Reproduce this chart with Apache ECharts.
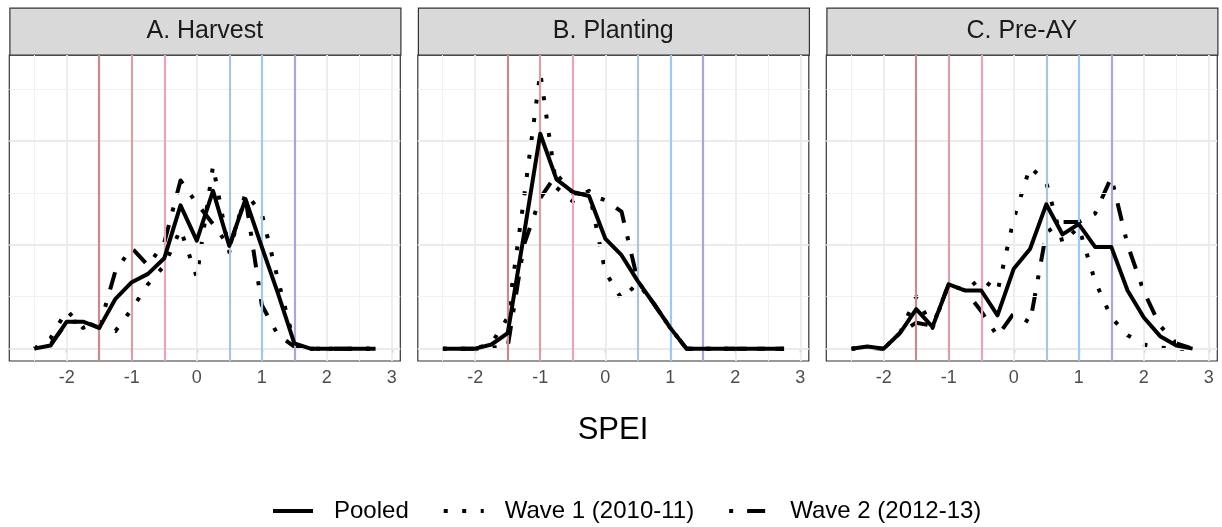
<!DOCTYPE html>
<html lang="en">
<head>
<meta charset="utf-8">
<title>SPEI distributions</title>
<script src="https://cdn.jsdelivr.net/npm/echarts@6/dist/echarts.min.js"></script>
<style>
    html, body, #main {
        width: 100%;
        height: 100%;
        margin: 0;
        padding: 0;
        overflow: hidden;
        background: #ffffff;
    }
</style>
</head>
<body>
<div id="main"></div>
<script>
    // SPEI bin centres (shared by all panels)
    var spei = [-2.5, -2.25, -2, -1.75, -1.5, -1.25, -1, -0.75, -0.5, -0.25, 0, 0.25,
                0.5, 0.75, 1, 1.25, 1.5, 1.75, 2, 2.25, 2.5, 2.75];

    var panelTitles = ['A. Harvest', 'B. Planting', 'C. Pre-AY'];
    var seriesNames = ['Pooled', 'Wave 1 (2010-11)', 'Wave 2 (2012-13)'];

    // A. Harvest
    var harvestPooled = [0, 0.03, 0.26, 0.26, 0.2, 0.48, 0.64, 0.72, 0.87, 1.38, 1.04, 1.52,
                         0.99, 1.44, 0.98, 0.53, 0.05, 0, 0, 0, 0, 0];
    var harvestWave1  = [0, 0.1, 0.37, 0.2, 0.25, 0.17, 0.38, 0.62, 0.8, 1.15, 0.69, 1.76,
                         0.93, 1.5, 1.3, 0.66, 0.05, 0, 0, 0, 0, 0];
    var harvestWave2  = [0, 0.04, 0.25, 0.27, 0.2, 0.75, 0.97, 0.8, 1.02, 1.62, 1.4, 1.2,
                         0.98, 1.45, 0.42, 0.13, 0.02, 0, 0, 0, 0, 0];

    // B. Planting
    var plantingPooled = [0, 0, 0, 0.04, 0.15, 1.1, 2.07, 1.63, 1.51, 1.47, 1.06, 0.9,
                          0.65, 0.43, 0.2, 0, 0, 0, 0, 0, 0, 0];
    var plantingWave1  = [0, 0, 0, 0.05, 0.3, 1.45, 2.66, 1.55, 1.42, 1.52, 0.74, 0.48,
                          0.63, 0.43, 0.2, 0, 0, 0, 0, 0, 0, 0];
    var plantingWave2  = [0, 0, 0, 0.01, 0.02, 1.0, 1.45, 1.68, 1.5, 1.48, 1.43, 1.32,
                          0.65, 0.43, 0.2, 0, 0, 0, 0, 0, 0, 0];

    // C. Pre-AY
    var preayPooled = [0, 0.02, 0, 0.15, 0.38, 0.21, 0.62, 0.56, 0.56, 0.32, 0.77, 0.96,
                       1.39, 1.1, 1.2, 0.98, 0.98, 0.56, 0.3, 0.12, 0.03, 0];
    var preayWave1  = [0, 0.01, 0, 0.15, 0.5, 0.2, 0.62, 0.56, 0.68, 0.55, 1.25, 1.75,
                       1.6, 1.02, 1.17, 0.65, 0.3, 0.13, 0.04, 0.01, 0, 0];
    var preayWave2  = [0, 0.01, 0, 0.15, 0.25, 0.22, 0.62, 0.56, 0.36, 0.12, 0.34, 0.25,
                       1.12, 1.22, 1.22, 1.3, 1.65, 1.0, 0.55, 0.22, 0.05, 0];

    var xTicks = [-2, -1, 0, 1, 2, 3];
    var refLines = [-1.5, -1, -0.5, 0.5, 1, 1.5];
    var refColors = ['#c98a8f', '#d7a1a7', '#eba5b5', '#abc5dd', '#9ec9f2', '#a9a7d8'];

    var panelData = [
        [harvestPooled, harvestWave1, harvestWave2],
        [plantingPooled, plantingWave1, plantingWave2],
        [preayPooled, preayWave1, preayWave2]
    ];

    var font = '"Liberation Sans", Arial, sans-serif';
    var lineTypes = ['solid', [4, 14.5], [4, 14, 18, 14]];

    var panelLeft = [9.3, 417.8, 826.3];
    var panelWidth = 391;
    var panelTop = 55;
    var panelHeight = 306;

    function pairs(vals) {
        return spei.map(function (x, i) {
            return [x, vals[i]];
        });
    }

    var grids = [], xAxes = [], yAxes = [], series = [], graphics = [];

    for (var p = 0; p < 3; p++) {
        grids.push({
            left: panelLeft[p], top: panelTop, width: panelWidth, height: panelHeight,
            show: true, borderColor: '#333333', borderWidth: 1.2, backgroundColor: '#ffffff'
        });
        xAxes.push({
            gridIndex: p, type: 'value', min: -2.883, max: 3.13,
            axisLine: {show: false},
            splitLine: {show: false},
            axisTick: {show: true, customValues: xTicks, length: 4, lineStyle: {color: '#333333', width: 1.2}},
            axisLabel: {customValues: xTicks, color: '#4d4d4d', fontSize: 18, margin: 8, fontFamily: font}
        });
        yAxes.push({gridIndex: p, type: 'value', min: -0.119, max: 2.828, show: false});

        // panel grid (major / minor)
        var gl = [];
        [-2.5, -1.5, -0.5, 0.5, 1.5, 2.5].forEach(function (v) {
            gl.push({xAxis: v, lineStyle: {color: '#f1f1f1', width: 1, type: 'solid'}});
        });
        xTicks.forEach(function (v) {
            gl.push({xAxis: v, lineStyle: {color: '#ebebeb', width: 1.8, type: 'solid'}});
        });
        [0.5, 1.5, 2.5].forEach(function (v) {
            gl.push({yAxis: v, lineStyle: {color: '#f1f1f1', width: 1, type: 'solid'}});
        });
        [0, 1, 2].forEach(function (v) {
            gl.push({yAxis: v, lineStyle: {color: '#ebebeb', width: 1.8, type: 'solid'}});
        });
        series.push({
            type: 'line', xAxisIndex: p, yAxisIndex: p, data: [], z: 1, silent: true,
            markLine: {silent: true, symbol: 'none', label: {show: false}, data: gl, animation: false}
        });

        // SPEI category cut-offs
        series.push({
            type: 'line', xAxisIndex: p, yAxisIndex: p, data: [], z: 2, silent: true,
            markLine: {
                silent: true, symbol: 'none', label: {show: false}, animation: false,
                data: refLines.map(function (v, k) {
                    return {xAxis: v, lineStyle: {color: refColors[k], width: 2.2, type: 'solid'}};
                })
            }
        });

        for (var s = 0; s < 3; s++) {
            series.push({
                name: seriesNames[s], type: 'line', xAxisIndex: p, yAxisIndex: p, z: 5 - s,
                data: pairs(panelData[p][s]),
                showSymbol: false, symbol: 'none',
                lineStyle: {color: '#000000', width: 4, type: lineTypes[s], join: 'round'},
                itemStyle: {color: '#000000'}
            });
        }

        // facet strip
        graphics.push({
            type: 'rect', left: panelLeft[p], top: 7.5,
            shape: {width: panelWidth, height: 47},
            style: {fill: '#d9d9d9', stroke: '#333333', lineWidth: 1.2}
        });
        graphics.push({
            type: 'text', x: panelLeft[p] + panelWidth / 2, y: 31,
            style: {text: panelTitles[p], fill: '#1a1a1a', fontSize: 25, fontFamily: font,
                    textAlign: 'center', textVerticalAlign: 'middle'}
        });
    }

    graphics.push({
        type: 'text', x: 613, y: 430,
        style: {text: 'SPEI', fill: '#000000', fontSize: 31, fontFamily: font,
                textAlign: 'center', textVerticalAlign: 'middle'}
    });

    var chart = echarts.init(document.getElementById('main'));
    chart.setOption({
        animation: false,
        backgroundColor: '#ffffff',
        grid: grids,
        xAxis: xAxes,
        yAxis: yAxes,
        legend: {
            data: seriesNames,
            top: 494, left: 266,
            itemWidth: 40, itemHeight: 16, itemGap: 33,
            itemStyle: {opacity: 0},
            lineStyle: {width: 4},
            textStyle: {fontSize: 24, color: '#000000', fontFamily: font, padding: [0, 0, 0, 16]}
        },
        graphic: graphics,
        series: series
    });
</script>
</body>
</html>
